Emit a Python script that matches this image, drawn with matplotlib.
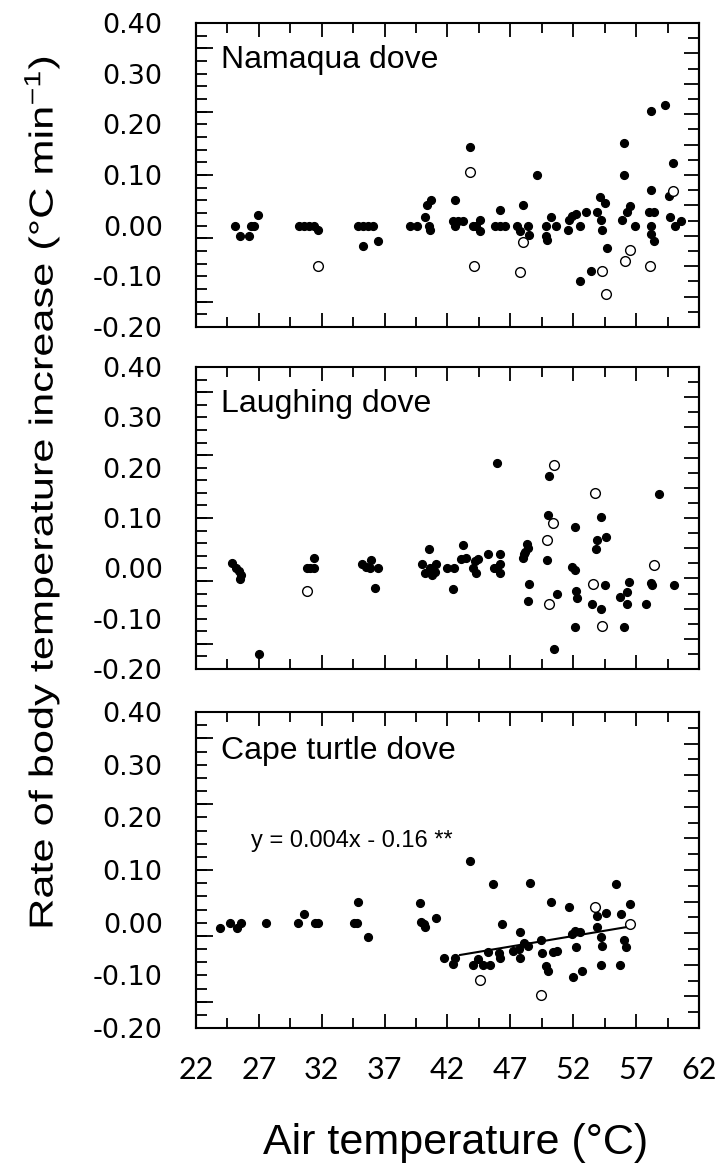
import numpy as np
import matplotlib.pyplot as plt
from matplotlib.ticker import MultipleLocator, FormatStrFormatter, NullFormatter
from matplotlib.patheffects import AbstractPathEffect
from matplotlib.transforms import Affine2D

plt.rcParams['font.family'] = ['Liberation Sans', 'DejaVu Sans']
plt.rcParams['mathtext.fontset'] = 'custom'
plt.rcParams['mathtext.rm'] = 'Liberation Sans'
plt.rcParams['mathtext.it'] = 'Liberation Sans:italic'

# Namaqua dove: filled = individual runs, open = second group
namaqua_x = [25.1, 25.5, 26.2, 26.4, 26.6, 26.9, 30.2, 30.6, 31.0, 31.4,
             31.7, 34.9, 35.3, 35.7, 36.1, 35.3, 36.5, 39.0, 39.6, 40.2,
             40.4, 40.7, 40.6, 40.5, 42.6, 42.4, 42.8, 43.2, 42.6, 43.8,
             44.0, 44.3, 44.6, 44.6, 45.8, 46.2, 46.6, 46.2, 47.5, 48.0,
             47.8, 48.4, 48.5, 49.1, 49.8, 50.2, 49.8, 49.9, 50.6, 51.6,
             51.7, 51.9, 52.2, 52.5, 52.5, 53.0, 53.4, 53.9, 54.1, 54.2,
             54.3, 54.5, 54.7, 56.0, 56.0, 55.9, 56.3, 56.5, 56.9, 58.0,
             58.2, 58.2, 58.4, 58.2, 58.2, 58.4, 59.3, 59.6, 59.7, 59.9,
             60.1, 60.6]
namaqua_y = [0.000, -0.020, -0.020, 0.000, 0.000, 0.021, 0.000, 0.000, 0.000, 0.000,
             -0.009, 0.000, 0.000, 0.000, 0.000, -0.041, -0.030, 0.000, 0.000, 0.018,
             0.040, 0.050, -0.009, 0.000, 0.050, 0.010, 0.010, 0.010, 0.000, 0.156,
             0.000, 0.000, 0.011, -0.010, 0.000, 0.000, 0.000, 0.031, 0.000, 0.040,
             -0.010, 0.000, -0.018, 0.100, 0.000, 0.018, -0.020, -0.028, 0.000, -0.009,
             0.011, 0.020, 0.023, 0.000, -0.109, 0.026, -0.089, 0.026, 0.056, 0.012,
             -0.009, 0.045, -0.045, 0.163, 0.100, 0.011, 0.026, 0.038, 0.000, 0.026,
             0.226, 0.071, 0.026, 0.000, -0.017, -0.030, 0.238, 0.059, 0.018, 0.123,
             0.000, 0.010]
namaqua_open_x = [31.7, 43.8, 44.1, 48.0, 47.8, 54.3, 54.6, 56.1, 56.5, 58.1, 59.9]
namaqua_open_y = [-0.079, 0.106, -0.079, -0.033, -0.092, -0.089, -0.135, -0.069, -0.048, -0.079, 0.068]

# Laughing dove
laughing_x = [24.9, 25.2, 25.4, 25.6, 25.5, 27.0, 30.8, 31.1, 31.4, 31.4,
              35.2, 35.5, 35.9, 35.8, 36.5, 36.2, 40.0, 40.5, 40.2, 40.6,
              40.8, 41.1, 41.0, 42.0, 42.5, 42.4, 43.2, 43.1, 43.5, 44.2,
              44.0, 44.3, 44.4, 45.2, 45.7, 45.9, 46.2, 46.2, 46.2, 45.9,
              48.0, 48.2, 48.3, 48.4, 48.1, 48.5, 48.4, 49.9, 50.0, 50.1,
              50.7, 50.5, 51.9, 52.1, 52.1, 52.2, 52.3, 52.1, 53.5, 53.8,
              53.9, 54.2, 54.6, 54.5, 54.2, 56.0, 55.7, 56.3, 56.3, 56.4,
              57.8, 58.2, 58.3, 58.8, 60.0]
laughing_y = [0.010, 0.000, -0.005, -0.013, -0.021, -0.170, 0.000, 0.000, 0.000, 0.020,
              0.009, 0.002, 0.017, 0.000, 0.000, -0.039, 0.009, 0.038, -0.009, 0.000,
              -0.013, 0.009, -0.008, 0.000, 0.000, -0.041, 0.046, 0.018, 0.020, 0.015,
              0.000, -0.009, 0.018, 0.028, 0.000, 0.210, 0.028, 0.009, -0.009, 0.000,
              0.020, 0.032, 0.048, 0.040, 0.028, -0.031, -0.065, 0.017, 0.106, 0.183,
              -0.050, -0.160, 0.003, -0.003, 0.083, -0.046, -0.059, -0.117, -0.071, 0.038,
              0.057, 0.101, 0.063, -0.033, -0.081, -0.116, -0.057, -0.048, -0.071, -0.028,
              -0.071, -0.030, -0.033, 0.147, -0.033]
laughing_open_x = [30.8, 50.5, 50.4, 49.9, 50.1, 53.7, 53.6, 54.3, 58.4]
laughing_open_y = [-0.046, 0.205, 0.091, 0.057, -0.071, 0.149, -0.031, -0.115, 0.007]

# Cape turtle dove
cape_x = [23.9, 24.7, 25.3, 25.6, 27.6, 30.1, 30.6, 31.5, 31.7, 34.6,
          34.9, 34.8, 35.7, 39.8, 39.9, 40.2, 40.1, 41.1, 41.7, 42.4,
          42.6, 43.8, 44.0, 44.4, 44.8, 45.2, 45.4, 45.6, 46.1, 46.2,
          46.3, 47.2, 47.7, 47.8, 47.8, 48.1, 48.4, 48.6, 49.4, 49.5,
          49.8, 50.0, 50.2, 50.4, 50.7, 51.7, 51.9, 52.1, 52.2, 52.0,
          52.7, 52.5, 53.9, 53.9, 54.2, 54.3, 54.6, 54.2, 55.4, 55.8,
          55.7, 56.0, 56.2, 56.5]
cape_y = [-0.011, 0.000, -0.010, 0.000, 0.000, 0.000, 0.017, 0.000, 0.000, 0.000,
          0.040, 0.000, -0.027, 0.037, 0.002, -0.008, -0.002, 0.008, -0.067, -0.079,
          -0.067, 0.117, -0.080, -0.069, -0.080, -0.056, -0.080, 0.074, -0.058, -0.067,
          -0.003, -0.053, -0.050, -0.018, -0.067, -0.038, -0.045, 0.076, -0.032, -0.058,
          -0.082, -0.091, 0.040, -0.056, -0.053, 0.030, -0.022, -0.015, -0.047, -0.103,
          -0.091, -0.018, -0.008, 0.012, -0.027, -0.044, 0.018, -0.080, 0.074, 0.017,
          -0.080, -0.033, -0.047, 0.035]
cape_open_x = [53.7, 56.5, 44.6, 49.4]
cape_open_y = [0.030, -0.003, -0.109, -0.138]

# regression reported for the hot end of the Cape turtle dove series
eq_slope = 0.004
eq_intercept = -0.16
fit_range = [43.0, 56.5]

species = ['Namaqua dove', 'Laughing dove', 'Cape turtle dove']
x_ticks = [22, 27, 32, 37, 42, 47, 52, 57, 62]
y_ticks = [-0.20, -0.10, 0.00, 0.10, 0.20, 0.30, 0.40]

W, H = 720, 1169
# panel boxes in pixels: (top, bottom)
boxes = [(23, 327), (367, 669), (712, 1028)]
left_px, right_px = 196, 699


class StretchText(AbstractPathEffect):
    """Draw text glyphs scaled along the writing direction."""

    def __init__(self, factor):
        super().__init__()
        self.factor = factor

    def draw_path(self, renderer, gc, tpath, affine, rgbFace=None):
        renderer.draw_path(gc, tpath, Affine2D().scale(self.factor, 1.0) + affine, rgbFace)


fig = plt.figure(figsize=(W / 100, H / 100), dpi=100)


def style_axes(ax, show_xlabels):
    ax.set_xlim(22, 62)
    ax.set_ylim(-0.2, 0.4)
    for sp in ax.spines.values():
        sp.set_linewidth(1.5)
    ax.set_xticks(x_ticks)
    ax.xaxis.set_minor_locator(MultipleLocator(5, offset=4.5))
    ax.set_yticks(y_ticks)
    ax.yaxis.set_major_formatter(FormatStrFormatter('%.2f'))
    ax.yaxis.set_minor_locator(MultipleLocator(0.025))
    ax.tick_params(axis='x', which='major', direction='in', length=10, width=1.3,
                   top=True, bottom=True, pad=20)
    ax.tick_params(axis='x', which='minor', direction='in', length=7, width=1.3,
                   top=True, bottom=True)
    ax.tick_params(axis='y', which='both', direction='in', length=8, width=1.3,
                   left=True, right=False, pad=24)
    for lab in ax.get_yticklabels():
        lab.set_fontfamily('DejaVu Sans')
        lab.set_fontsize(19.5)
    if show_xlabels:
        for lab in ax.get_xticklabels():
            lab.set_fontfamily('Lato')
            lab.set_fontsize(22)
    else:
        ax.tick_params(axis='x', labelbottom=False)

    # long ticks on the left and the coarser tick set on the right
    sec_l = ax.secondary_yaxis('left')
    sec_l.yaxis.set_major_locator(MultipleLocator(0.125, offset=0.1))
    sec_l.yaxis.set_major_formatter(NullFormatter())
    sec_l.tick_params(direction='in', length=12, width=1.3)
    sec_l.spines['left'].set_linewidth(1.5)

    sec_r = ax.secondary_yaxis('right')
    sec_r.yaxis.set_major_locator(MultipleLocator(0.06, offset=0.04))
    sec_r.yaxis.set_minor_locator(MultipleLocator(0.03, offset=0.01))
    sec_r.yaxis.set_major_formatter(NullFormatter())
    sec_r.tick_params(which='major', direction='in', length=11, width=1.3)
    sec_r.tick_params(which='minor', direction='in', length=8, width=1.3)
    sec_r.spines['right'].set_linewidth(1.5)


panel_data = [
    (namaqua_x, namaqua_y, namaqua_open_x, namaqua_open_y),
    (laughing_x, laughing_y, laughing_open_x, laughing_open_y),
    (cape_x, cape_y, cape_open_x, cape_open_y),
]

axes = []
for i, ((top, bot), (fx, fy, ox, oy)) in enumerate(zip(boxes, panel_data)):
    ax = fig.add_axes([left_px / W, 1 - bot / H, (right_px - left_px) / W, (bot - top) / H])
    ax.plot(fx, fy, 'o', color='black', markersize=5.6, zorder=3)
    ax.plot(ox, oy, 'o', markerfacecolor='white', markeredgecolor='black',
            markersize=7, markeredgewidth=1.0, zorder=4)
    ax.text(0.05, 0.877, species[i], transform=ax.transAxes, fontsize=23,
            va='center', ha='left')
    style_axes(ax, i == 2)
    axes.append(ax)

# slope as reported; intercept placed through the hot-end points
all_x = np.array(cape_x + cape_open_x)
all_y = np.array(cape_y + cape_open_y)
sel = (all_x >= fit_range[0] - 1) & (all_x <= fit_range[1] + 1)
icpt = np.mean(all_y[sel] - eq_slope * all_x[sel])
lx = np.array(fit_range)
axes[2].plot(lx, eq_slope * lx + icpt, color='black', linewidth=1.5, zorder=2)
axes[2].text(26.4, 0.156, f'y = {eq_slope:.3f}x - {abs(eq_intercept):.2f} **',
             fontsize=17, va='center', ha='left')

# y label: drawn elongated along its length
stretch = 1.3
ylab = fig.text(42 / W, 0.5, r'Rate of body temperature increase (°C min$^{-1}$)',
                rotation=90, rotation_mode='anchor', fontsize=24,
                ha='left', va='center', path_effects=[StretchText(stretch)])
renderer = fig.canvas.get_renderer()
natural = ylab.get_window_extent(renderer).height
ylab.set_y(1 - (492 + natural * stretch / 2) / H)

fig.text(456 / W, 1 - 1143 / H, 'Air temperature (°C)',
         fontsize=31, va='center', ha='center')

fig.savefig('out.png', dpi=100)
